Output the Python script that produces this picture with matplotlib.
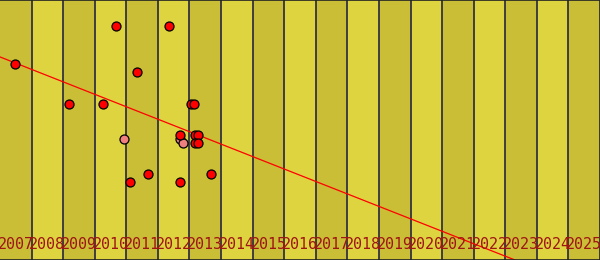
import numpy as np
import matplotlib.pyplot as plt

# years shown as bands along the x axis
years = list(range(2007, 2026))

# points: year position and value (0-100 scale)
red_x = [2007.47, 2010.67, 2012.35, 2011.34, 2009.18, 2010.26, 2013.05, 2013.15,
         2011.13, 2011.70, 2012.70, 2012.70, 2013.17, 2013.26, 2013.17, 2013.26, 2013.68]
red_y = [75.4, 90.0, 90.0, 72.3, 60.0, 60.0, 60.0, 60.0,
         29.9, 33.0, 48.1, 29.9, 48.1, 48.1, 44.9, 44.9, 33.0]
pink_x = [2010.94, 2012.70, 2012.80]
pink_y = [46.4, 46.5, 44.9]

# trend line end points
trend_x = [2007.0, 2026.0]
trend_y = [78.1, -12.9]

fig = plt.figure(figsize=(6, 2.6), dpi=100)
ax = fig.add_axes([0, 0, 1, 1])

light = '#ddd43f'
dark = '#c9be35'
for i, yr in enumerate(years):
    ax.axvspan(yr, yr + 1, color=dark if i % 2 == 0 else light, lw=0, zorder=0)
    if i > 0:
        ax.axvline(yr, color='#33333f', lw=1.3, zorder=1)
    ax.text(yr + 0.5, 5.9, str(yr), ha='center', va='center', fontsize=10.8,
            family='DejaVu Sans Mono', color='#a01414', zorder=5)

ax.plot(trend_x, trend_y, color='#ff0000', lw=0.9, zorder=2)
ax.scatter(pink_x, pink_y, s=42, color='#f08080', edgecolor='black', lw=0.9, zorder=3)
ax.scatter(red_x, red_y, s=42, color='#ff0000', edgecolor='black', lw=0.9, zorder=4)

ax.set_xlim(2007, 2026)
ax.set_ylim(0, 100)
ax.set_xticks([])
ax.set_yticks([])
for name, sp in ax.spines.items():
    sp.set_color('#222222')
    sp.set_linewidth(1.2)
ax.spines['left'].set_visible(False)

fig.savefig('out.png', dpi=100)
